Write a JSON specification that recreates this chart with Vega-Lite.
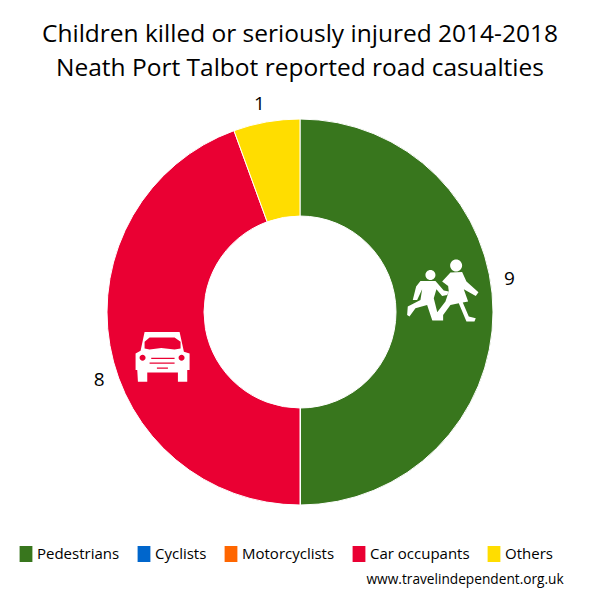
{"$schema":"https://vega.github.io/schema/vega-lite/v6.json","width":600,"height":515,"autosize":"none","padding":{"top":85,"left":0,"right":0,"bottom":0},"background":"white","title":{"text":["Children killed or seriously injured 2014-2018","Neath Port Talbot reported road casualties"],"font":"Open Sans","fontSize":24.5,"fontWeight":"normal","color":"black","lineHeight":34,"anchor":"middle","offset":4},"datasets":{"casualties":[{"mode":"Pedestrians","casualties":9,"order":1,"labelAngle":81},{"mode":"Cyclists","casualties":0,"order":2},{"mode":"Motorcyclists","casualties":0,"order":3},{"mode":"Car occupants","casualties":8,"order":4,"labelAngle":251.4},{"mode":"Others","casualties":1,"order":5,"labelAngle":349}]},"layer":[{"data":{"name":"casualties"},"mark":{"type":"arc","outerRadius":193,"innerRadius":96,"stroke":"white","strokeWidth":1},"encoding":{"x":{"datum":0,"type":"quantitative","scale":{"domain":[-1.55,1.55],"nice":false,"zero":false},"axis":null},"y":{"datum":0,"type":"quantitative","scale":{"domain":[-1.488,1.173],"nice":false,"zero":false},"axis":null},"theta":{"field":"casualties","type":"quantitative","stack":true},"order":{"field":"order"},"color":{"field":"mode","type":"nominal","scale":{"domain":["Pedestrians","Cyclists","Motorcyclists","Car occupants","Others"],"range":["#38761D","#0066CC","#FF6600","#EA0033","#FFDD00"]},"legend":{"title":null,"orient":"none","legendX":18,"legendY":461,"direction":"horizontal","columns":5,"columnPadding":16,"symbolType":"M-0.8 -1L0.8 -1L0.8 1L-0.8 1Z","symbolSize":256,"symbolStrokeWidth":0,"symbolOffset":0,"labelFont":"Open Sans","labelFontSize":15,"labelColor":"black","labelOffset":3,"labelLimit":200,"clipHeight":16}}}},{"data":{"name":"casualties"},"transform":[{"filter":"datum.casualties > 0"}],"mark":{"type":"text","radius":212,"font":"Open Sans","fontSize":19,"color":"black","align":"center","baseline":"middle"},"encoding":{"x":{"datum":0,"type":"quantitative"},"y":{"datum":0,"type":"quantitative"},"theta":{"field":"labelAngle","type":"quantitative","scale":{"domain":[0,360],"range":[0,6.28318]}},"text":{"field":"casualties","type":"quantitative"}}},{"data":{"values":[{"icon":"Pedestrians","across":0.736,"up":0.109,"glyph":"children"}]},"mark":{"type":"point","filled":true,"opacity":1,"color":"white","strokeWidth":0,"size":6400,"shape":"M0.2 -0.458L0.492 -0.475L0.6 -0.233L0.9 0.033L0.833 0.125L0.533 -0.042L0.642 0.267L0.508 0.292L0.658 0.642L0.833 0.683L0.8 0.767L0.6 0.767L0.408 0.308L0.2 0.35L0.017 0.6L0.017 0.742L-0.258 0.742L-0.15 0.558L0.075 0.267L0.158 0.017L0.142 -0.125L-0.008 -0.233ZM0.192 -0.633A0.15 0.15 0 1 1 0.492 -0.633A0.15 0.15 0 1 1 0.192 -0.633ZM-0.55 -0.25L-0.175 -0.25L0.033 -0.008L0.158 0.017L0.117 0.1L-0.008 0.125L-0.15 -0.042L-0.217 0.183L-0.092 0.683L-0.258 0.725L-0.383 0.35L-0.675 0.433L-0.825 0.642L-0.883 0.6L-0.867 0.392L-0.55 0.225L-0.508 -0.042L-0.633 0.225L-0.742 0.225L-0.658 -0.108ZM-0.425 -0.4A0.125 0.125 0 1 1 -0.175 -0.4A0.125 0.125 0 1 1 -0.425 -0.4Z"},"encoding":{"x":{"field":"across","type":"quantitative"},"y":{"field":"up","type":"quantitative"}}},{"data":{"values":[{"icon":"Car occupants","across":-0.71,"up":-0.233,"glyph":"car"}]},"mark":{"type":"point","filled":true,"opacity":1,"color":"white","strokeWidth":0,"size":3600,"shape":"M-0.6 -0.833L0.567 -0.833L0.711 -0.178L0.9 -0.122L0.9 0.433L0.822 0.433L0.822 0.822L0.511 0.822L0.511 0.511L-0.511 0.511L-0.511 0.822L-0.822 0.822L-0.844 0.433L-0.9 0.433L-0.9 -0.122L-0.733 -0.211ZM-0.433 -0.656L-0.6 -0.511L-0.6 -0.289L-0.433 -0.256L-0.044 -0.3L0.4 -0.256L0.6 -0.289L0.6 -0.511L0.4 -0.656ZM-0.767 0.022A0.1 0.1 0 0 0 -0.567 0.022A0.1 0.1 0 0 0 -0.767 0.022ZM0.533 0.022A0.1 0.1 0 0 0 0.733 0.022A0.1 0.1 0 0 0 0.533 0.022ZM-0.378 0.022L-0.378 0.067L0.4 0.067L0.4 0.022ZM-0.433 0.178L-0.433 0.222L0.4 0.222L0.4 0.178ZM-0.189 0.344L-0.189 0.389L0.178 0.389L0.178 0.344Z"},"encoding":{"x":{"field":"across","type":"quantitative"},"y":{"field":"up","type":"quantitative"}}},{"data":{"values":[{"site":"www.travelindependent.org.uk","across":0.853,"up":-1.385}]},"mark":{"type":"text","font":"Open Sans","fontSize":13.7,"color":"black","align":"center","baseline":"middle"},"encoding":{"x":{"field":"across","type":"quantitative"},"y":{"field":"up","type":"quantitative"},"text":{"field":"site"}}}],"resolve":{"scale":{"theta":"independent"}},"config":{"view":{"stroke":null}}}
